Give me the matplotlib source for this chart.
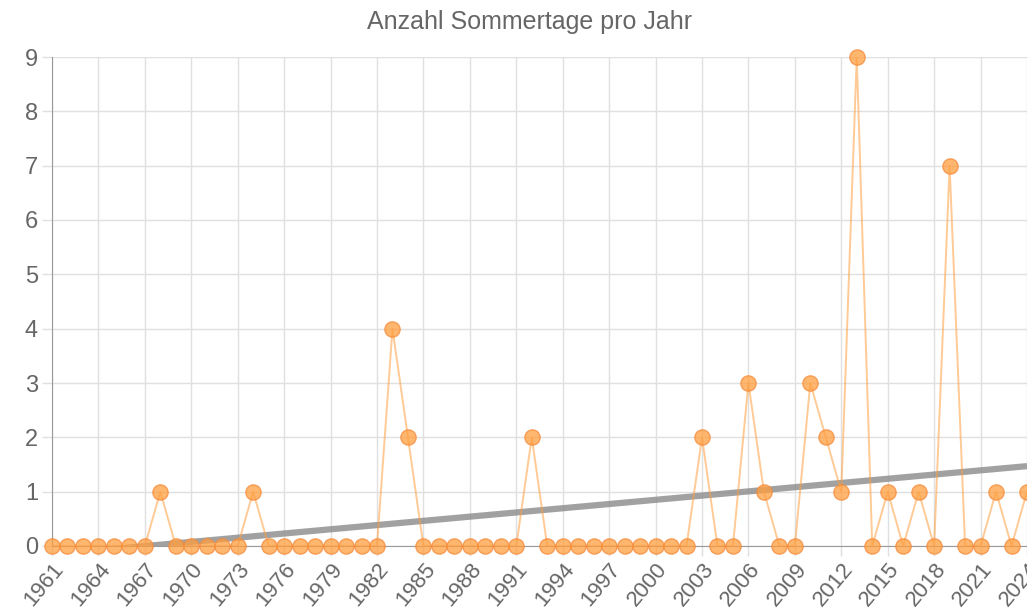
import matplotlib.pyplot as plt
import numpy as np

years = np.arange(1961, 2025)
# Anzahl Sommertage (Tmax >= 25 °C) pro Jahr
tage = [0, 0, 0, 0, 0, 0, 0, 1, 0, 0,
        0, 0, 0, 1, 0, 0, 0, 0, 0, 0,
        0, 0, 4, 2, 0, 0, 0, 0, 0, 0,
        0, 2, 0, 0, 0, 0, 0, 0, 0, 0,
        0, 0, 2, 0, 0, 3, 1, 0, 0, 3,
        2, 1, 9, 0, 1, 0, 1, 0, 7, 0,
        0, 1, 0, 1]
tick_years = list(range(1961, 2025, 3))

plt.rcParams['font.family'] = ['Liberation Sans', 'DejaVu Sans']

fig = plt.figure(figsize=(10.27, 6.16), dpi=100)
ax = fig.add_axes([52/1027, 1-546/616, 1-52/1027, (546-57)/616])

# lineare Trendlinie
k, d = np.polyfit(years, tage, 1)
ax.plot(years, k*years + d, color='#8a8a8a', alpha=0.8, lw=4.5, zorder=2,
        solid_capstyle='butt')

ax.plot(years, tage, color='#ff9f40', alpha=0.55, lw=1.4, zorder=3)
ax.plot(years, tage, 'o', ms=11, color='#ff9f40', alpha=0.75, mec='#f58a3a',
        mew=1, zorder=4, clip_on=False)

ax.set_xlim(1961, 2024)
ax.set_ylim(0, 9)
ax.set_yticks(range(10))
ax.set_xticks(tick_years)
ax.set_xticklabels([str(y) for y in tick_years], rotation=50, ha='right',
                   rotation_mode='anchor')
ax.grid(True, color='#e0e0e0', lw=1)
ax.set_axisbelow(True)
for s in ['top', 'right']:
    ax.spines[s].set_visible(False)
for s in ['left', 'bottom']:
    ax.spines[s].set_color('#999999')
ax.tick_params(colors='#e0e0e0', labelcolor='#666666', length=7, width=1)
ax.tick_params(axis='y', labelsize=17, pad=3)
ax.tick_params(axis='x', labelsize=16, pad=2)

fig.text(530/1027, 1-22/616, 'Anzahl Sommertage pro Jahr', ha='center', va='center',
         fontsize=18, color='#666666')

fig.savefig('out.png', dpi=100)
